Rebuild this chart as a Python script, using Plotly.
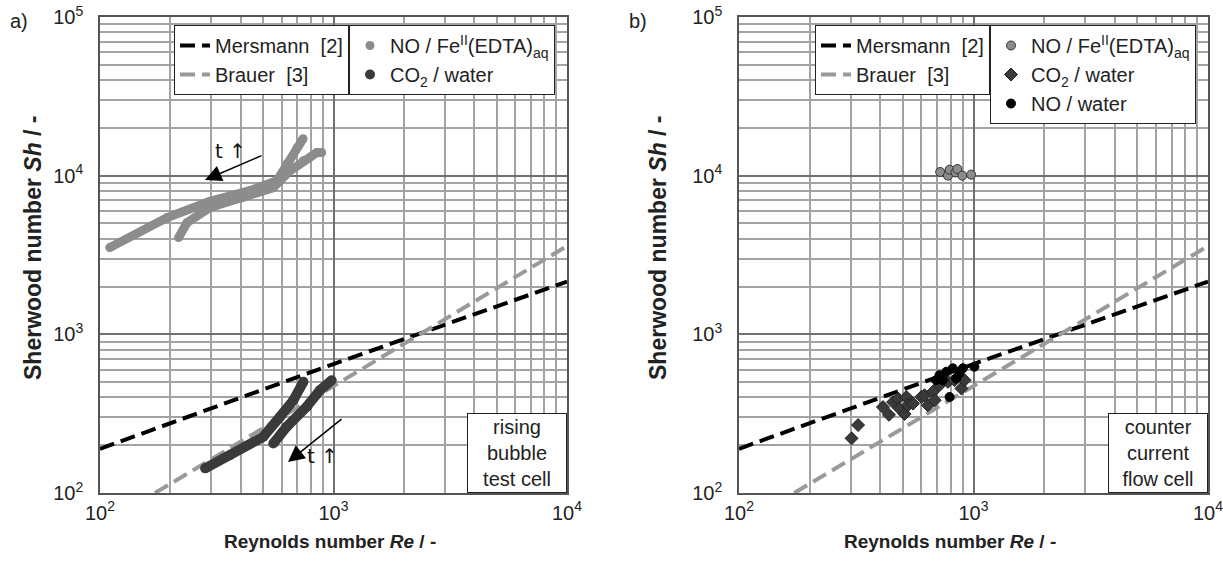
import plotly.graph_objects as go

# ---------------- data ----------------
# correlations (same on both panels)
re_mersmann = [100, 1000, 10000]
sh_mersmann = [190, 650, 2150]
re_brauer = [172, 1000, 10000]
sh_brauer = [100, 475, 3600]

# panel a) rising bubble test cell: NO / Fe(II)(EDTA)aq, two runs
re_fe_a1 = [110, 194, 296, 439, 573, 632, 698, 741]
sh_fe_a1 = [3520, 5440, 6900, 8050, 9300, 11900, 15000, 17100]
re_fe_a2 = [217, 236, 296, 409, 551, 652, 741, 849, 890]
sh_fe_a2 = [4070, 5060, 6300, 7270, 8400, 10750, 12400, 14000, 14000]

# panel a) CO2 / water, two runs
re_co2_a1 = [282, 360, 500, 590, 673, 743]
sh_co2_a1 = [143, 173, 226, 302, 384, 502]
re_co2_a2 = [552, 631, 768, 875, 982]
sh_co2_a2 = [205, 262, 350, 445, 514]

# panel b) counter current flow cell
re_fe_b = [721, 778, 791, 838, 853, 896, 977]
sh_fe_b = [10550, 10000, 10900, 10480, 11020, 10000, 10150]

re_co2_b = [302, 322, 411, 436, 454, 477, 484, 508, 517, 525, 552, 599, 639, 618,
            671, 683, 716, 778, 830, 888, 916]
sh_co2_b = [221, 268, 348, 311, 374, 393, 340, 315, 403, 357, 366, 403, 357, 413,
            434, 384, 478, 502, 514, 456, 514]

re_no_b = [716, 766, 816, 740, 844, 791, 901, 1009, 693, 871]
sh_no_b = [553, 581, 611, 514, 527, 403, 611, 625, 514, 568]

# axis ticks
x_major = [100, 1000, 10000]
x_major_text = ["10<sup>2</sup>", "10<sup>3</sup>", "10<sup>4</sup>"]
y_major = [100, 1000, 10000, 100000]
y_major_text = ["10<sup>2</sup>", "10<sup>3</sup>", "10<sup>4</sup>", "10<sup>5</sup>"]
x_minor = [m * d for d in [100, 1000] for m in range(2, 10)]
y_minor = [m * d for d in [100, 1000, 10000] for m in range(2, 10)]

# ---------------- figure ----------------
FONT = "Liberation Sans, Arial, sans-serif"
W, H = 1223, 562
C_LIGHT = "#8c8c8c"
C_DARK = "#3a3a3a"

fig = go.Figure()


def joined(a, b):
    return list(a) + [None] + list(b)


for xa, ya, lg_l in [("x", "y", "legend"), ("x2", "y2", "legend3")]:
    fig.add_trace(go.Scatter(x=re_mersmann, y=sh_mersmann, mode="lines", name="Mersmann&nbsp; [2]",
                             line=dict(color="black", width=4, dash="15px,7px"),
                             xaxis=xa, yaxis=ya, legend=lg_l))
    fig.add_trace(go.Scatter(x=re_brauer, y=sh_brauer, mode="lines", name="Brauer&nbsp; [3]",
                             line=dict(color="#9a9a9a", width=4, dash="15px,7px"),
                             xaxis=xa, yaxis=ya, legend=lg_l))

# panel a data: thick bands through read points
fig.add_trace(go.Scatter(x=joined(re_fe_a1, re_fe_a2), y=joined(sh_fe_a1, sh_fe_a2), mode="lines",
                         line=dict(color=C_LIGHT, width=9), showlegend=False, connectgaps=False,
                         xaxis="x", yaxis="y"))
fig.add_trace(go.Scatter(x=joined(re_fe_a1, re_fe_a2), y=joined(sh_fe_a1, sh_fe_a2), mode="markers",
                         marker=dict(color=C_LIGHT, size=9), name="NO / Fe<sup>II</sup>(EDTA)<sub>aq</sub>",
                         xaxis="x", yaxis="y", legend="legend2"))
fig.add_trace(go.Scatter(x=joined(re_co2_a1, re_co2_a2), y=joined(sh_co2_a1, sh_co2_a2), mode="lines",
                         line=dict(color=C_DARK, width=10), showlegend=False, connectgaps=False,
                         xaxis="x", yaxis="y"))
fig.add_trace(go.Scatter(x=joined(re_co2_a1, re_co2_a2), y=joined(sh_co2_a1, sh_co2_a2), mode="markers",
                         marker=dict(color=C_DARK, size=10), name="CO<sub>2</sub> / water",
                         xaxis="x", yaxis="y", legend="legend2"))

# panel b data
fig.add_trace(go.Scatter(x=re_fe_b, y=sh_fe_b, mode="markers", name="NO / Fe<sup>II</sup>(EDTA)<sub>aq</sub>",
                         marker=dict(color=C_LIGHT, size=9, line=dict(color="#333", width=1)),
                         xaxis="x2", yaxis="y2", legend="legend4"))
fig.add_trace(go.Scatter(x=re_co2_b, y=sh_co2_b, mode="markers", name="CO<sub>2</sub> / water",
                         marker=dict(color=C_DARK, size=10, symbol="diamond", line=dict(color="#222", width=1)),
                         xaxis="x2", yaxis="y2", legend="legend4"))
fig.add_trace(go.Scatter(x=re_no_b, y=sh_no_b, mode="markers", name="NO / water",
                         marker=dict(color="black", size=9, line=dict(color="black", width=1)),
                         xaxis="x2", yaxis="y2", legend="legend4"))


def axis_common(tickvals, ticktext, minorvals, rng, domain, anchor, ticklen):
    return dict(type="log", range=rng, domain=domain, anchor=anchor,
                tickmode="array", tickvals=tickvals, ticktext=ticktext,
                showgrid=True, gridcolor="#707070", gridwidth=1.5,
                minor=dict(tickmode="array", tickvals=minorvals, showgrid=True,
                           gridcolor="#a3a3a3", gridwidth=1.5),
                showline=True, linecolor="#555555", linewidth=1.5, mirror=True,
                ticks="outside", ticklen=ticklen, tickcolor="rgba(0,0,0,0)",
                ticklabeloverflow="allow",
                tickfont=dict(family=FONT, size=20, color="#222"), zeroline=False,
                automargin=False)


ydom = [1 - 493 / H, 1 - 17 / H]
leg_common = dict(bgcolor="white", bordercolor="#222", borderwidth=1,
                  font=dict(family=FONT, size=20, color="#222"), yanchor="top",
                  y=1 - 25 / H, itemwidth=30, tracegroupgap=0)

fig.update_layout(
    width=W, height=H, margin=dict(l=0, r=0, t=0, b=0, pad=0, autoexpand=False),
    paper_bgcolor="white", plot_bgcolor="white",
    font=dict(family=FONT, size=20, color="#222"),
    xaxis=axis_common(x_major, x_major_text, x_minor, [2, 4], [100 / W, 567 / W], "y", 1),
    yaxis=axis_common(y_major, y_major_text, y_minor, [2, 5], ydom, "x", 11),
    xaxis2=axis_common(x_major, x_major_text, x_minor, [2, 4], [739 / W, 1208 / W], "y2", 1),
    yaxis2=axis_common(y_major, y_major_text, y_minor, [2, 5], ydom, "x2", 11),
    legend=dict(leg_common, x=349 / W, xanchor="right"),
    legend2=dict(leg_common, x=349 / W, xanchor="left"),
    legend3=dict(leg_common, x=990 / W, xanchor="right"),
    legend4=dict(leg_common, x=990 / W, xanchor="left"),
)

ann = []


def text_ann(text, px, py, size=20, **kw):
    d = dict(text=text, x=px / W, y=1 - py / H, xref="paper", yref="paper", showarrow=False,
             xanchor="center", yanchor="middle", font=dict(size=size))
    d.update(kw)
    return d


# panel labels
ann.append(text_ann("a)", 19, 21))
ann.append(text_ann("b)", 638, 21))
# axis titles
for cx in [330, 950]:
    ann.append(text_ann("<b>Reynolds number <i>Re</i> / -</b>", cx, 541, size=19))
for cx in [33, 658]:
    ann.append(text_ann("<b>Sherwood number <i>Sh</i> / -</b>", cx, 248, size=23, textangle=-90))
# text boxes
for txt, xr in [("rising<br>bubble<br>test cell", 567), ("counter<br>current<br>flow cell", 1208)]:
    ann.append(dict(text=txt, x=xr / W, y=1 - 493 / H, xref="paper", yref="paper",
                    xanchor="right", yanchor="bottom", showarrow=False, bgcolor="white", bordercolor="#222",
                    borderwidth=1, borderpad=2, width=94, align="center", font=dict(size=20)))
# time arrows
for hx, hy, dx, dy in [(205, 180, 58, -25), (288, 462, 55, -44)]:
    ann.append(dict(text="", x=hx / W, y=1 - hy / H, xref="paper", yref="paper", ax=dx, ay=dy,
                    showarrow=True, arrowhead=2, arrowsize=2.2, arrowwidth=1.5, arrowcolor="black"))
for tx, ty in [(230, 151), (322, 456)]:
    ann.append(text_ann("t \u2191", tx, ty, size=20,
                        font=dict(size=20, family="DejaVu Sans, Liberation Sans", color="#111")))

fig.update_layout(annotations=ann)
fig.write_html("out.html")
